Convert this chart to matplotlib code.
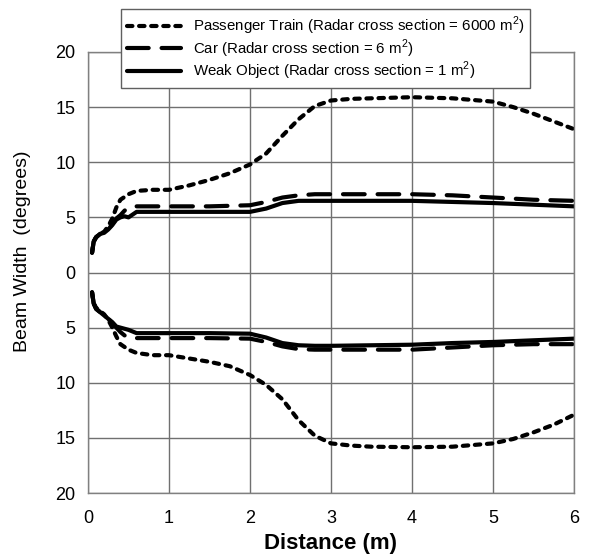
import matplotlib
matplotlib.use("Agg")
import matplotlib.pyplot as plt
import numpy as np

plt.rcParams['font.family'] = ['Liberation Sans', 'DejaVu Sans']
plt.rcParams['mathtext.fontset'] = 'custom'
plt.rcParams['mathtext.rm'] = 'Liberation Sans'

# ---- data ----
train_x = [0.05, 0.07, 0.1, 0.15, 0.2, 0.25, 0.3, 0.35, 0.4, 0.5, 0.6, 0.8, 1.0, 1.25, 1.5, 1.75,
           2.0, 2.2, 2.4, 2.6, 2.8, 3.0, 3.25, 3.5, 4.0, 4.5, 5.0, 5.25, 5.5, 5.75, 6.0]
train_upper = [1.8, 2.8, 3.2, 3.5, 3.7, 4.2, 4.9, 5.9, 6.6, 7.1, 7.4, 7.5, 7.5, 7.9, 8.4, 9.0,
               9.8, 10.8, 12.4, 13.9, 15.1, 15.6, 15.75, 15.8, 15.9, 15.8, 15.5, 15.0, 14.4, 13.7, 13.0]
train_lower = [-1.8, -2.8, -3.2, -3.5, -3.8, -4.3, -5.0, -5.8, -6.5, -7.0, -7.3, -7.5, -7.5, -7.8, -8.1, -8.5,
               -9.3, -10.2, -11.5, -13.4, -14.8, -15.5, -15.7, -15.8, -15.85, -15.8, -15.5, -15.1, -14.5, -13.8, -12.9]

obj_x = [0.05, 0.07, 0.1, 0.15, 0.2, 0.25, 0.3, 0.35, 0.4, 0.45, 0.5, 0.6, 0.8, 1.0, 1.5,
         2.0, 2.2, 2.4, 2.6, 2.8, 3.0, 3.5, 4.0, 4.5, 5.0, 5.5, 6.0]
car_upper = [1.8, 2.8, 3.2, 3.5, 3.6, 3.9, 4.4, 4.9, 5.2, 5.6, 5.9, 6.0, 6.0, 6.0, 6.0,
             6.1, 6.4, 6.8, 7.0, 7.1, 7.1, 7.1, 7.1, 7.0, 6.8, 6.6, 6.5]
car_lower = [-1.8, -2.8, -3.3, -3.6, -3.9, -4.2, -4.6, -5.0, -5.4, -5.7, -5.9, -5.95, -5.95, -5.95, -5.95,
             -6.0, -6.3, -6.7, -6.95, -7.0, -7.0, -7.0, -7.0, -6.8, -6.6, -6.5, -6.5]
weak_upper = [1.8, 2.8, 3.2, 3.5, 3.6, 3.9, 4.3, 4.8, 5.0, 5.1, 5.0, 5.5, 5.5, 5.5, 5.5,
              5.5, 5.8, 6.3, 6.5, 6.5, 6.5, 6.5, 6.5, 6.4, 6.3, 6.15, 6.0]
weak_lower = [-1.8, -2.8, -3.3, -3.6, -3.9, -4.2, -4.5, -4.9, -5.0, -5.1, -5.2, -5.5, -5.5, -5.5, -5.5,
              -5.55, -5.9, -6.4, -6.6, -6.65, -6.65, -6.6, -6.55, -6.4, -6.3, -6.15, -6.0]

labels = [r'Passenger Train (Radar cross section = 6000 m$^{\mathregular{2}}$)',
          r'Car (Radar cross section = 6 m$^{\mathregular{2}}$)',
          r'Weak Object (Radar cross section = 1 m$^{\mathregular{2}}$)']
yticks = [-20, -15, -10, -5, 0, 5, 10, 15, 20]
xticks = [0, 1, 2, 3, 4, 5, 6]

fig = plt.figure(figsize=(5.9, 5.6), dpi=100)
ax = fig.add_axes([88/590, 1 - 493/560, (574-88)/590, (493-52)/560])

lw = 3.0
ls_train = (0, (1.3, 1.6))
ls_car = (0, (5.2, 3.1))
common = dict(color='black', lw=lw, dash_capstyle='round', solid_capstyle='round')
h1, = ax.plot(train_x, train_upper, linestyle=ls_train, **common)
ax.plot(train_x, train_lower, linestyle=ls_train, **common)
h2, = ax.plot(obj_x, car_upper, linestyle=ls_car, **common)
ax.plot(obj_x, car_lower, linestyle=ls_car, **common)
h3, = ax.plot(obj_x, weak_upper, linestyle='-', **common)
ax.plot(obj_x, weak_lower, linestyle='-', **common)

ax.set_xlim(0, 6)
ax.set_ylim(-20, 20)
ax.set_xticks(xticks)
ax.set_yticks(yticks)
ax.set_yticklabels([str(abs(v)) for v in yticks])
ax.tick_params(length=0, labelsize=13)
ax.tick_params(axis='x', pad=12)
ax.tick_params(axis='y', pad=9)
ax.grid(True, color='#707070', lw=1)
for s in ax.spines.values():
    s.set_color('#808080')
    s.set_linewidth(1)

ax.set_xlabel('Distance (m)', fontsize=16, fontweight='bold')
ax.xaxis.set_label_coords(0.5, (493 - 543) / 441)
ax.xaxis.label.set_va('center')
ax.set_ylabel('Beam Width  (degrees)', fontsize=14)
ax.yaxis.set_label_coords((23 - 88) / 486, (493 - 251) / 441)
ax.yaxis.label.set_va('center')

leg = fig.legend([h1, h2, h3], labels, loc='upper left',
                 bbox_to_anchor=(121/590, 1 - 9/560), borderaxespad=0,
                 fancybox=False, framealpha=1, edgecolor='#606060',
                 fontsize=10.8, handlelength=3.6, labelspacing=0.0,
                 borderpad=0.4, handletextpad=0.8)
leg.get_frame().set_linewidth(1)

fig.savefig('out.png', dpi=100)
